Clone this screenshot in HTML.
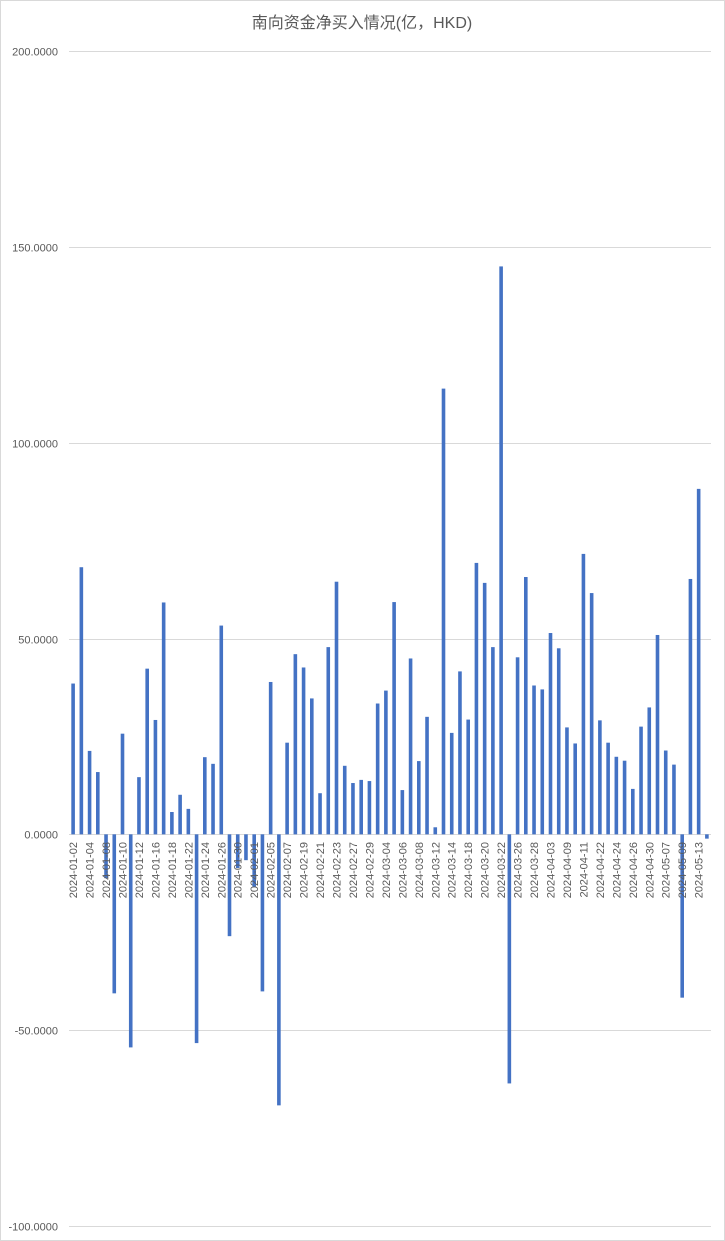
<!DOCTYPE html>
<html><head><meta charset="utf-8">
<style>
html,body{margin:0;padding:0;background:#fff;}
svg{display:block;font-family:"Liberation Sans","Noto Sans CJK SC",sans-serif;}
</style></head>
<body>
<svg id="chart" width="725" height="1241" viewBox="0 0 725 1241" xmlns="http://www.w3.org/2000/svg">
<rect x="0.5" y="0.5" width="724" height="1240" fill="#fff" stroke="#d9d9d9"/>
<text x="362" y="28" text-anchor="middle" font-size="16" fill="#595959">南向资金净买入情况(亿，HKD)</text>
<g id="grid"></g>
<g id="bars"></g>
<g id="xlabels"></g>
</svg>
<script>
const categories = ["2024-01-02","2024-01-03","2024-01-04","2024-01-05","2024-01-08","2024-01-09","2024-01-10","2024-01-11","2024-01-12","2024-01-15","2024-01-16","2024-01-17","2024-01-18","2024-01-19","2024-01-22","2024-01-23","2024-01-24","2024-01-25","2024-01-26","2024-01-29","2024-01-30","2024-01-31","2024-02-01","2024-02-02","2024-02-05","2024-02-06","2024-02-07","2024-02-08","2024-02-19","2024-02-20","2024-02-21","2024-02-22","2024-02-23","2024-02-26","2024-02-27","2024-02-28","2024-02-29","2024-03-01","2024-03-04","2024-03-05","2024-03-06","2024-03-07","2024-03-08","2024-03-11","2024-03-12","2024-03-13","2024-03-14","2024-03-15","2024-03-18","2024-03-19","2024-03-20","2024-03-21","2024-03-22","2024-03-25","2024-03-26","2024-03-27","2024-03-28","2024-04-02","2024-04-03","2024-04-08","2024-04-09","2024-04-10","2024-04-11","2024-04-12","2024-04-22","2024-04-23","2024-04-24","2024-04-25","2024-04-26","2024-04-29","2024-04-30","2024-05-06","2024-05-07","2024-05-08","2024-05-09","2024-05-10","2024-05-13","2024-05-14"];
const values = [38.5,68.2,21.3,15.9,-11.2,-40.6,25.7,-54.4,14.6,42.3,29.2,59.2,5.7,10.1,6.5,-53.3,19.7,18.0,53.3,-26.0,-8.6,-6.6,-13.4,-40.1,38.9,-69.2,23.4,46.0,42.6,34.7,10.5,47.8,64.5,17.5,13.1,13.9,13.6,33.4,36.7,59.3,11.3,44.9,18.7,30.0,1.8,113.8,25.9,41.6,29.3,69.3,64.2,47.8,145.0,-63.6,45.2,65.7,38.0,37.0,51.4,47.5,27.3,23.2,71.6,61.6,29.1,23.4,19.8,18.8,11.6,27.5,32.4,50.9,21.4,17.8,-41.7,65.2,88.2,-1.1];
const yTicks = [200,150,100,50,0,-50,-100];

const NS="http://www.w3.org/2000/svg";
const plotL=69, plotR=711, yTop=51, yBot=1226, yMax=200, yMin=-100;
function yScale(v){return yTop+(yMax-v)*(yBot-yTop)/(yMax-yMin);}
const bw=(plotR-plotL)/categories.length;
function xCenter(i){return plotL+(i+0.5)*bw;}

const grid=document.getElementById('grid');
yTicks.forEach(t=>{
  const y=Math.round(yScale(t))+0.5;
  const l=document.createElementNS(NS,'line');
  
  
  l.setAttribute('x1',plotL);l.setAttribute('x2',plotR);
  l.setAttribute('y1',y);l.setAttribute('y2',y);
  l.setAttribute('stroke','#d9d9d9');l.setAttribute('stroke-width','1');
  grid.appendChild(l);
  const tx=document.createElementNS(NS,'text');
  
  
  tx.setAttribute('x',58);tx.setAttribute('y',y+4);
  tx.setAttribute('text-anchor','end');tx.setAttribute('font-size','11');
  tx.setAttribute('fill','#595959');
  tx.textContent=t.toFixed(4);
  grid.appendChild(tx);
});

const bars=document.getElementById('bars');
values.forEach((v,i)=>{
  const r=document.createElementNS(NS,'rect');
  
  
  const y0=yScale(0), y1=yScale(v);
  const w=3.6;
  r.setAttribute('x',xCenter(i)-w/2);
  r.setAttribute('width',w);
  r.setAttribute('y',Math.min(y0,y1));
  r.setAttribute('height',Math.max(Math.abs(y1-y0),1));
  r.setAttribute('fill','#4472c4');
  bars.appendChild(r);
});

const xl=document.getElementById('xlabels');
categories.forEach((c,i)=>{
  if(i%2!==0) return;
  const x=xCenter(i)+4, y=842;
  const t=document.createElementNS(NS,'text');
  
  
  t.setAttribute('x',x);t.setAttribute('y',y);
  t.setAttribute('text-anchor','end');t.setAttribute('font-size','11');
  t.setAttribute('fill','#595959');
  t.setAttribute('transform','rotate(-90 '+x+' '+y+')');
  t.textContent=c;
  xl.appendChild(t);
});
</script>
</body></html>
